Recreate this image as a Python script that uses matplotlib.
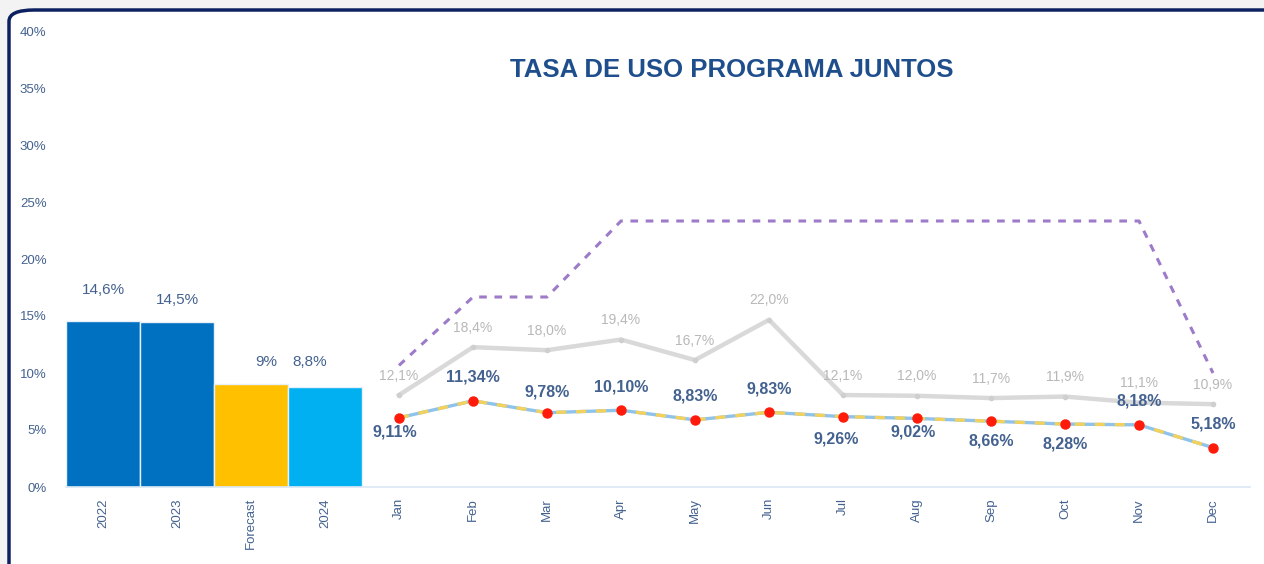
import matplotlib
matplotlib.use("Agg")
from matplotlib import pyplot as plt
from matplotlib.patches import FancyBboxPatch

plt.rcParams['font.family'] = ['Liberation Sans Narrow', 'Liberation Sans', 'DejaVu Sans']

# bars
bar_labels = ["2022", "2023", "Forecast", "2024"]
bar_values = [14.6, 14.5, 9.0, 8.8]
bar_texts = ["14,6%", "14,5%", "9%", "8,8%"]
bar_colors = ["#0070c0", "#0070c0", "#ffc000", "#00b0f0"]

# monthly series (secondary scale)
months = ["Jan", "Feb", "Mar", "Apr", "May", "Jun", "Jul", "Aug", "Sep", "Oct", "Nov", "Dec"]
uso = [9.11, 11.34, 9.78, 10.10, 8.83, 9.83, 9.26, 9.02, 8.66, 8.28, 8.18, 5.18]
uso_prev = [12.1, 18.4, 18.0, 19.4, 16.7, 22.0, 12.1, 12.0, 11.7, 11.9, 11.1, 10.9]
meta = [16, 25, 25, 35, 35, 35, 35, 35, 35, 35, 35, 15]

def pct(v, dec):
    return (f"{v:.{dec}f}%").replace(".", ",")

navy_txt = "#44628f"

fig = plt.figure(figsize=(12.64, 5.64), dpi=100)
fig.patch.set_facecolor("#f3f3f3")
W, H = 1264, 564
frame = FancyBboxPatch((9 / W, -0.2), 1.2, (H - 10) / H + 0.2,
                       boxstyle="round,pad=0,rounding_size=0.02",
                       transform=fig.transFigure, facecolor="white",
                       edgecolor="#0d2160", linewidth=2.5, zorder=-5)
fig.patches.append(frame)

ax = fig.add_axes([66 / W, 77 / H, 1184 / W, 456 / H])
ax.set_facecolor("none")

xb = list(range(len(bar_labels)))
xm = [len(bar_labels) + i for i in range(len(months))]

ax.bar(xb, bar_values, width=1.0, color=bar_colors, edgecolor="#e8f1fa", linewidth=1.0, zorder=2)
bar_off = [(0, 31), (0, 22), (15, 22), (-15, 25)]
for x, v, t, o in zip(xb, bar_values, bar_texts, bar_off):
    ax.annotate(t, (x + o[0] / 74, v), xytext=(0, o[1] * 0.72), textcoords="offset points",
                ha="center", va="center", color=navy_txt, fontsize=11)

ax.set_xlim(-0.5, 15.5)
ax.set_ylim(0, 40)
ax.set_yticks(range(0, 41, 5))
ax.set_yticklabels([f"{v}%" for v in range(0, 41, 5)])
ax.set_xticks(xb + xm)
ax.set_xticklabels(bar_labels + months, rotation=90)
ax.tick_params(axis="both", length=0, colors=navy_txt, labelsize=9.5)
ax.tick_params(axis="y", pad=14)
ax.tick_params(axis="x", pad=8)
for s in ["top", "right", "left"]:
    ax.spines[s].set_visible(False)
ax.spines["bottom"].set_color("#dbe8f5")
ax.spines["bottom"].set_linewidth(1.2)

ax2 = ax.twinx()
ax2.set_ylim(0, 60)
ax2.set_yticks([])
for s in ax2.spines.values():
    s.set_visible(False)

ax2.plot(xm, meta, color="#9d7bc9", linestyle=(0, (2.5, 2.5)), linewidth=2.2, zorder=3)
ax2.plot(xm, uso_prev, color="#d9d9d9", linewidth=3.2, marker="o", markersize=3,
         markerfacecolor="#cfcfcf", markeredgecolor="#cfcfcf", zorder=3)
ax2.plot(xm, uso, color="#8fc3ea", linewidth=2.4, zorder=4)
ax2.plot(xm, uso, color="#f2d15c", linewidth=2.4, linestyle=(0, (3, 3)), zorder=5)
ax2.plot(xm, uso, linestyle="none", marker="o", markersize=6.5, color="#ff1a0a", zorder=6)

for x, v in zip(xm, uso_prev):
    ax2.annotate(pct(v, 1), (x, v), xytext=(0, 14), textcoords="offset points",
                 ha="center", va="center", color="#b8b8b8", fontsize=10)

uso_off = [(-3, -10), (0, 17), (0, 15), (0, 17), (0, 17), (0, 17),
           (-5, -16), (-3, -10), (0, -14), (0, -14), (0, 17), (0, 17)]
for x, v, o in zip(xm, uso, uso_off):
    ax2.annotate(pct(v, 2), (x, v), xytext=o, textcoords="offset points",
                 ha="center", va="center", color=navy_txt, fontsize=11.5, fontweight="bold")

fig.text(732 / W, 1 - 70 / H, "TASA DE USO PROGRAMA JUNTOS", ha="center", va="center",
         fontsize=18.5, fontweight="bold", color="#1f4e8c", family=["Liberation Sans", "DejaVu Sans"])

fig.savefig("out.png", dpi=100, facecolor=fig.get_facecolor())
